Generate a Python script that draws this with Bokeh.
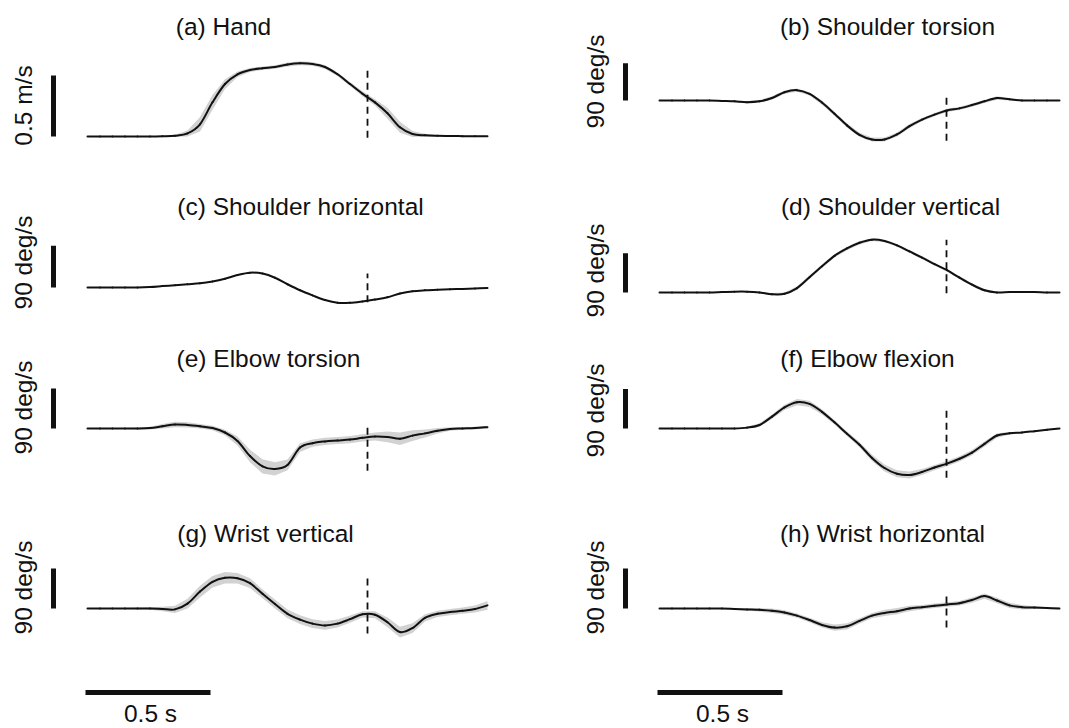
import numpy as np
from bokeh.plotting import figure
from bokeh.layouts import gridplot
from bokeh.models import Range1d, ColumnDataSource
from bokeh.core.properties import value
from bokeh.embed import file_html
from bokeh.resources import INLINE

# ---------------- data ----------------
T = [0.00, 0.05, 0.10, 0.15, 0.20, 0.25, 0.30, 0.35, 0.40, 0.45, 0.50, 0.55, 0.60,
     0.65, 0.70, 0.75, 0.80, 0.85, 0.90, 0.95, 1.00, 1.05, 1.10, 1.15, 1.20, 1.25,
     1.30, 1.35, 1.40, 1.45, 1.50, 1.55, 1.60]

HAND = [0, 0, 0, 0, 0, 0, 0.002, 0.006, 0.025, 0.10, 0.28, 0.43, 0.51, 0.545, 0.56,
        0.57, 0.59, 0.60, 0.595, 0.57, 0.51, 0.43, 0.35, 0.28, 0.19, 0.075, 0.02,
        0.01, 0.006, 0.004, 0.003, 0.002, 0.002]
HAND_SD = [0.003, 0.003, 0.003, 0.003, 0.003, 0.003, 0.004, 0.008, 0.025, 0.06, 0.06,
           0.04, 0.022, 0.016, 0.014, 0.014, 0.016, 0.016, 0.016, 0.016, 0.015, 0.016,
           0.02, 0.025, 0.045, 0.045, 0.025, 0.012, 0.006, 0.005, 0.005, 0.005, 0.005]

SH_TOR = [0, 0, 0, 0, 0, -1, -2, -4, -2, 6, 20, 25, 16, -5, -32, -60, -83, -94, -94,
          -82, -62, -46, -34, -24, -19, -11, -2, 6, 3, 0, 0, 0, 0]
SH_TOR_SD = [1, 1, 1, 1, 1, 1, 2, 3, 3, 4, 4, 4, 4, 5, 5, 5, 5, 5, 5, 5, 5, 4, 4, 4,
             4, 4, 4, 4, 3, 2, 1, 1, 1]

SH_HOR = [0, 0, 0, 0, 0, 1, 3, 5, 7, 9, 13, 19, 27, 32, 30, 21, 7, -6, -17, -27, -33,
          -33, -30, -26, -21, -13, -8, -6, -5, -4, -3, -2, -1]
SH_HOR_SD = [1] * 33

SH_VER = [0, 0, 0, 0, 0, 1, 2, 2, 0, -4, -3, 10, 35, 60, 84, 101, 114, 121, 118, 108,
          94, 80, 65, 51, 34, 18, 5, 0, 1, 1, 1, 0, 0]
SH_VER_SD = [1, 1, 1, 1, 1, 1, 1, 1, 2, 3, 3, 4, 4, 4, 4, 4, 4, 3, 3, 3, 3, 3, 3, 3,
             3, 3, 3, 2, 1, 1, 1, 1, 1]

EL_TOR = [0, 0, 0, 0, 0, 1, 5, 9, 8, 5, 1, -9, -28, -62, -85, -91, -82, -43, -33, -29,
          -27, -25, -21, -18, -19, -23, -16, -11, -5, -1, 0, 1, 3]
EL_TOR_SD = [1, 1, 1, 1, 2, 3, 5, 6, 6, 5, 5, 6, 10, 14, 16, 15, 12, 10, 8, 8, 8, 8,
             8, 9, 12, 14, 12, 9, 6, 4, 3, 3, 3]

EL_FLEX = [0, 0, 0, 0, 0, 0, 0, 2, 8, 27, 48, 60, 56, 38, 14, -12, -37, -67, -90, -103,
           -106, -99, -89, -80, -69, -55, -35, -16, -11, -9, -6, -3, 0]
EL_FLEX_SD = [1, 1, 1, 1, 1, 1, 1, 2, 4, 5, 6, 7, 7, 6, 5, 5, 6, 7, 8, 8, 8, 7, 6, 6,
              6, 6, 6, 5, 3, 1, 1, 1, 1]

WR_VER = [0, 0, 0, 0, 0, 0, -1, -2, 11, 38, 60, 69, 68, 57, 33, 10, -12, -25, -34, -38,
          -34, -24, -13, -14, -31, -53, -44, -21, -12, -8, -5, -1, 7]
WR_VER_SD = [1, 1, 1, 1, 2, 3, 5, 8, 11, 13, 13, 13, 12, 11, 10, 10, 10, 10, 10, 10,
             9, 8, 7, 8, 11, 12, 11, 8, 7, 7, 7, 8, 10]

WR_HOR = [0, 0, 0, 0, 0, 0, -1, -2, -3, -5, -9, -16, -26, -37, -43, -40, -28, -16, -10,
          -6, 0, 3, 6, 9, 12, 19, 28, 18, 7, 3, 2, 1, 0]
WR_HOR_SD = [1, 1, 1, 1, 1, 1, 2, 3, 4, 5, 5, 5, 5, 6, 7, 7, 6, 6, 7, 7, 6, 5, 5, 5,
             5, 6, 6, 6, 6, 5, 3, 2, 2]

MEANS = [HAND, SH_TOR, SH_HOR, SH_VER, EL_TOR, EL_FLEX, WR_VER, WR_HOR]
SDS = [HAND_SD, SH_TOR_SD, SH_HOR_SD, SH_VER_SD, EL_TOR_SD, EL_FLEX_SD, WR_VER_SD, WR_HOR_SD]

TITLES = ["(a) Hand", "(b) Shoulder torsion", "(c) Shoulder horizontal",
          "(d) Shoulder vertical", "(e) Elbow torsion", "(f) Elbow flexion",
          "(g) Wrist vertical", "(h) Wrist horizontal"]
UNITS = ["0.5 m/s", "90 deg/s", "90 deg/s", "90 deg/s", "90 deg/s", "90 deg/s",
         "90 deg/s", "90 deg/s"]
BAR_LEN = [0.5, 90, 90, 90, 90, 90, 90, 90]
EVENT_T = [1.12, 1.148]                     # per column (left, right)
DASH_TOP = [0.557, 10, 30, 121, 4.5, 52, 70, 29]
DASH_BOT = [-0.01, -97, -32, -2, -95, -112, -56, -43]
TIME_BAR = 0.5
TIME_LABEL = "0.5 s"

# ---------------- layout (pixels) ----------------
PX_PER_S = 250
COL_W = [534, 535]
COL_LEFT = [0, 534]
COL_X0 = [87, 125]
ROW_H = [160, 175, 170, 223]
ROW_TOP = [0, 160, 335, 505]
BASE_Y = [136, 100, 127, 132, 93, 93, 103, 103]
PX_PER_UNIT = [122, 37.3 / 90, 41.7 / 90, 39.3 / 90, 40 / 90, 39.5 / 90, 40 / 90, 40 / 90]
TITLE_POS = [(223, 26), (887, 26), (300, 206), (890, 206), (268, 358), (867, 358),
             (265, 533), (882, 533)]
LABEL_X = [23, 595]
LABEL_Y = [105, 81, 262, 270, 407, 410, 587, 587]
BAR_X = [53, 625]
TBAR_X0 = [85, 657]
TBAR_Y = 692
TLABEL_POS = [(150, 713), (722, 713)]

FONT = value("Liberation Sans")
FS = value("24.5px")
INK = "#111111"
GRAY = "#d2d2d2"


def smooth_segments(x, y):
    """Catmull-Rom control points so the mean trace is drawn as smooth Bezier pieces
    through every measured sample (no extra samples are created)."""
    x = np.asarray(x, float)
    y = np.asarray(y, float)
    xp = np.concatenate([[x[0]], x, [x[-1]]])
    yp = np.concatenate([[y[0]], y, [y[-1]]])
    n = len(x) - 1
    d = dict(x0=x[:-1], y0=y[:-1], x1=x[1:], y1=y[1:])
    d["cx0"] = x[:-1] + (xp[2:n + 2] - xp[0:n]) / 6.0
    d["cy0"] = y[:-1] + (yp[2:n + 2] - yp[0:n]) / 6.0
    d["cx1"] = x[1:] - (xp[3:n + 3] - xp[1:n + 1]) / 6.0
    d["cy1"] = y[1:] - (yp[3:n + 3] - yp[1:n + 1]) / 6.0
    return d


panels = []
for i in range(8):
    r, c = divmod(i, 2)
    W, H = COL_W[c], ROW_H[r]
    x0, yb, s = COL_X0[c], BASE_Y[i], PX_PER_UNIT[i]
    p = figure(width=W, height=H, output_backend="svg", toolbar_location=None,
               x_range=Range1d(-x0 / PX_PER_S, (W - x0) / PX_PER_S),
               y_range=Range1d(-(H - yb) / s, yb / s),
               x_axis_location=None, y_axis_location=None, min_border=0,
               outline_line_color=None, background_fill_color="white",
               border_fill_color="white")
    p.grid.visible = False

    def gx(X, c=c, x0=x0):
        return (X - COL_LEFT[c] - x0) / PX_PER_S

    def gy(Y, r=r, yb=yb, s=s):
        return (yb - (Y - ROW_TOP[r])) / s

    m = np.array(MEANS[i], dtype=float)
    sd = np.array(SDS[i], dtype=float)
    src = ColumnDataSource(dict(t=T, m=m, lo=m - sd, hi=m + sd))
    p.varea(x="t", y1="lo", y2="hi", source=src, fill_color=GRAY)
    bz = ColumnDataSource(smooth_segments(T, m))
    p.bezier(x0="x0", y0="y0", x1="x1", y1="y1", cx0="cx0", cy0="cy0",
             cx1="cx1", cy1="cy1", source=bz, line_color=INK, line_width=2,
             line_cap="round")

    # event marker
    p.segment(x0=[EVENT_T[c]], x1=[EVENT_T[c]], y0=[DASH_BOT[i]], y1=[DASH_TOP[i]],
              line_color=INK, line_width=1.8, line_dash="7 5")

    # vertical scale bar + label
    bx = gx(BAR_X[c])
    p.segment(x0=[bx], x1=[bx], y0=[0], y1=[BAR_LEN[i]], line_color=INK,
              line_width=5, line_cap="butt")
    p.text(x=[gx(LABEL_X[c])], y=[gy(LABEL_Y[i])], text=[UNITS[i]], angle=np.pi / 2,
           text_font=FONT, text_font_size=FS, text_color=INK,
           text_align="center", text_baseline="middle")

    # title
    tx, ty = TITLE_POS[i]
    p.text(x=[gx(tx)], y=[gy(ty)], text=[TITLES[i]], text_font=FONT,
           text_font_size=FS, text_color=INK, text_align="center",
           text_baseline="middle")

    # time scale bar on bottom row
    if r == 3:
        t0 = gx(TBAR_X0[c])
        p.segment(x0=[t0], x1=[t0 + TIME_BAR], y0=[gy(TBAR_Y)], y1=[gy(TBAR_Y)],
                  line_color=INK, line_width=5, line_cap="butt")
        lx, ly = TLABEL_POS[c]
        p.text(x=[gx(lx)], y=[gy(ly)], text=[TIME_LABEL], text_font=FONT,
               text_font_size=FS, text_color=INK, text_align="center",
               text_baseline="middle")
    panels.append(p)

grid = gridplot([[panels[0], panels[1]], [panels[2], panels[3]],
                 [panels[4], panels[5]], [panels[6], panels[7]]],
                toolbar_location=None)

open("out.html", "w").write(file_html(grid, INLINE))
